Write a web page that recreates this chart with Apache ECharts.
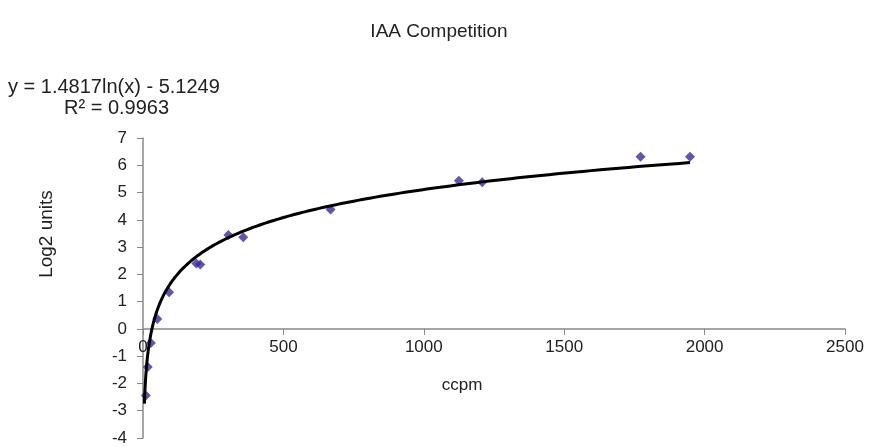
<!DOCTYPE html>
<html>
<head>
<meta charset="utf-8">
<script src="https://cdn.jsdelivr.net/npm/echarts@6/dist/echarts.min.js"></script>
<style>
  html, body { margin: 0; padding: 0; background: #fff; }
  #main { width: 870px; height: 447px; }
</style>
</head>
<body>
<div id="main"></div>
<script>
var chart = echarts.init(document.getElementById('main'));

// measured points (ccpm, Log2 units)
var ccpm = [10, 17, 28, 51, 93, 190, 204, 304, 357, 668, 1125, 1208, 1772, 1948];
var log2Units = [-2.44, -1.4, -0.52, 0.36, 1.34, 2.4, 2.36, 3.44, 3.36, 4.38, 5.43, 5.38, 6.31, 6.31];

// logarithmic trendline as printed on the chart
var coefA = 1.4817;
var coefB = -5.1249;
var trendStart = 5;
var trendEnd = 1948;

var yMin = -4, yMax = 7;

var points = ccpm.map(function (x, i) { return [x, log2Units[i]]; });

var trend = [];
for (var i = 0; i <= 300; i++) {
  // log spacing, denser near zero where the curve bends
  var x = trendStart * Math.pow(trendEnd / trendStart, i / 300);
  trend.push([x, coefA * Math.log(x) + coefB]);
}

var font = 'Liberation Sans, Arial, sans-serif';
var gridTop = 138, gridBottom = 9;
var plotH = 447 - gridTop - gridBottom;
// x axis sits on y = 0
var zeroOffset = -plotH * (0 - yMin) / (yMax - yMin);

chart.setOption({
  animation: false,
  title: {
    text: 'IAA Competition',
    left: 434,
    top: 17,
    textAlign: 'center',
    textStyle: { fontFamily: font, fontSize: 19, fontWeight: 'normal', color: '#222' }
  },
  grid: { left: 143, right: 25, top: gridTop, bottom: gridBottom },
  xAxis: {
    type: 'value',
    min: 0,
    max: 2500,
    interval: 500,
    position: 'bottom',
    offset: zeroOffset,
    axisLine: { onZero: false, lineStyle: { color: '#888', width: 1.5 } },
    axisTick: { show: true, length: 6, lineStyle: { color: '#888' } },
    axisLabel: { fontFamily: font, fontSize: 17, color: '#222', margin: 10, formatter: function (v) { return String(v); } },
    splitLine: { show: false }
  },
  yAxis: {
    type: 'value',
    min: yMin,
    max: yMax,
    interval: 1,
    axisLine: { show: true, onZero: false, lineStyle: { color: '#888', width: 1.5 } },
    axisTick: { show: true, length: 6, lineStyle: { color: '#888' } },
    axisLabel: { fontFamily: font, fontSize: 17, color: '#222', margin: 16 },
    splitLine: { show: false }
  },
  graphic: [
    {
      type: 'text',
      x: 8,
      y: 87,
      style: { text: 'y = 1.4817ln(x) - 5.1249', font: '20px ' + font, fill: '#222', verticalAlign: 'middle' }
    },
    {
      type: 'text',
      x: 64,
      y: 108,
      style: { text: 'R² = 0.9963', font: '20px ' + font, fill: '#222', verticalAlign: 'middle' }
    },
    {
      type: 'text',
      x: 47,
      y: 234,
      rotation: Math.PI / 2,
      style: { text: 'Log2 units', font: '19px ' + font, fill: '#222', align: 'center', verticalAlign: 'middle' }
    },
    {
      type: 'text',
      x: 462,
      y: 385,
      style: { text: 'ccpm', font: '17px ' + font, fill: '#222', align: 'center', verticalAlign: 'middle' }
    }
  ],
  series: [
    {
      type: 'scatter',
      data: points,
      symbol: 'diamond',
      symbolSize: 10,
      itemStyle: { color: '#3a2a9e' },
      z: 2
    },
    {
      type: 'line',
      data: trend,
      showSymbol: false,
      lineStyle: { color: '#000', width: 3 },
      z: 3
    }
  ]
});
</script>
</body>
</html>
